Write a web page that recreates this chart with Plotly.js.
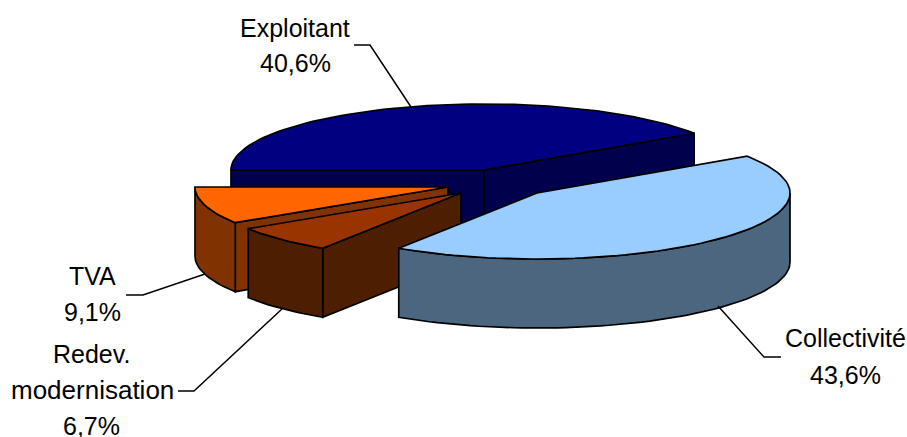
<!DOCTYPE html>
<html><head><meta charset="utf-8">
<script src="https://cdn.plot.ly/plotly-3.0.1.min.js"></script>
<style>html,body{margin:0;padding:0;background:#fff}#c{width:907px;height:437px}</style>
</head><body><div id="c"></div>
<script>
// Data, clockwise from the left edge of the pie
const categories = ['Exploitant', 'Collectivité', 'Redev. modernisation', 'TVA'];
const shares = [40.6, 43.6, 6.7, 9.1];
const topColors = ['#000080', '#99CCFF', '#993300', '#FF6600'];
const sideColors = ['#00004D', '#4D6680', '#4D1F00', '#803300'];
// Projection of the tilted, exploded pie
const centerX = [484, 537, 461, 448];
const centerY = [170, 193, 193, 187];
const radiusX = 253, radiusY = 66, depth = 69, startAngle = -180;
const drawOrder = [0, 3, 2, 1];
// Labels: lines of text with their centre
const labelLines = [
  {i: 0, text: 'Exploitant', x: 295, base: 37},
  {i: 0, pct: true, x: 295, base: 72},
  {i: 1, text: 'Collectivité', x: 845, base: 347},
  {i: 1, pct: true, x: 845, base: 384},
  {i: 2, text: 'Redev.', x: 91, base: 363},
  {i: 2, text: 'modernisation', x: 92, base: 399, size: 26},
  {i: 2, pct: true, x: 91, base: 435},
  {i: 3, text: 'TVA', x: 92, base: 285},
  {i: 3, pct: true, x: 92, base: 321}
];
const leaderX = [[354, 370, 411], [781, 764, 718], [178, 194, 282], [126, 143, 205]];
const leaderY = [[45, 45, 107], [357, 357, 306], [391, 391, 309], [295, 295, 274]];

const rad = d => d * Math.PI / 180;
const traces = [];
function face(xs, ys, fill, name) {
  traces.push({type: 'scatter', mode: 'lines', x: xs.concat(xs[0]), y: ys.concat(ys[0]), fill: 'toself',
    fillcolor: fill, line: {color: '#000', width: 1.7}, name: name, hoverinfo: 'name', showlegend: false});
}
const total = shares.reduce((a, b) => a + b, 0);
const spans = [];
let acc = startAngle;
shares.forEach(v => { const sweep = v / total * 360; spans.push([acc, acc + sweep]); acc += sweep; });

function arc(i, a, b, dz) {
  const pts = [], n = Math.max(2, Math.ceil(Math.abs(b - a) / 2));
  for (let k = 0; k <= n; k++) {
    const t = rad(a + (b - a) * k / n);
    pts.push([centerX[i] + radiusX * Math.cos(t), centerY[i] + radiusY * Math.sin(t) + dz]);
  }
  return pts;
}
drawOrder.forEach(i => {
  const [a, b] = spans[i], name = categories[i];
  const cx = centerX[i], cy = centerY[i];
  const cut = t => {
    const px = cx + radiusX * Math.cos(rad(t)), py = cy + radiusY * Math.sin(rad(t));
    face([cx, px, px, cx], [cy, py, py + depth, cy + depth], sideColors[i], name);
  };
  if (Math.cos(rad(a)) < 0) cut(a);
  if (Math.cos(rad(b)) > 0) cut(b);
  const r0 = Math.max(a, 0), r1 = Math.min(b, 180);
  if (r1 > r0) {
    const pts = arc(i, r0, r1, 0).concat(arc(i, r1, r0, depth));
    face(pts.map(p => p[0]), pts.map(p => p[1]), sideColors[i], name);
  }
  const top = [[cx, cy]].concat(arc(i, a, b, 0));
  face(top.map(p => p[0]), top.map(p => p[1]), topColors[i], name);
});
leaderX.forEach((xs, i) => traces.push({type: 'scatter', mode: 'lines', x: xs, y: leaderY[i],
  line: {color: '#000', width: 1.5}, hoverinfo: 'skip', showlegend: false}));

const annotations = labelLines.map(l => ({
  x: l.x, y: l.base - 9, xref: 'x', yref: 'y', xanchor: 'center', yanchor: 'middle', showarrow: false,
  text: l.pct ? shares[l.i].toFixed(1).replace('.', ',') + '%' : l.text,
  font: {family: 'Liberation Sans, Arial, sans-serif', size: l.size || 25, color: '#000'}
}));

Plotly.newPlot('c', traces, {
  width: 907, height: 437, margin: {l: 0, r: 0, t: 0, b: 0}, showlegend: false,
  paper_bgcolor: '#fff', plot_bgcolor: '#fff', annotations: annotations,
  xaxis: {range: [0, 907], visible: false, fixedrange: true},
  yaxis: {range: [437, 0], visible: false, fixedrange: true}
}, {displayModeBar: false, staticPlot: true});
</script></body></html>
